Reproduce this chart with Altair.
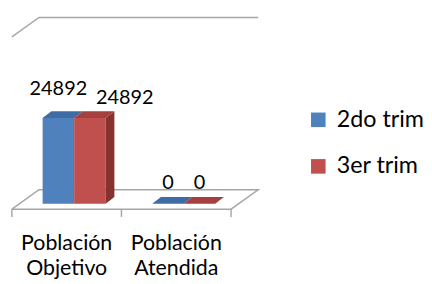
import altair as alt
import pandas as pd

# ---------------- data ----------------
categories = ["Población Objetivo", "Población Atendida"]
series_names = ["2do trim", "3er trim"]
values_2do = [24892, 0]
values_3er = [24892, 0]
gridline_value = 50000

# ---------------- style / layout ----------------
W, H = 416, 268
CENTER0_PX = 68.2
PX_PER_U = 113.0
Y_MIN, Y_MAX = -19800, 55600
VPP = (Y_MAX - Y_MIN) / H          # value units per pixel
X_DOMAIN = [-CENTER0_PX / PX_PER_U, (W - CENTER0_PX) / PX_PER_U]
BAR_W = 32.5 / PX_PER_U
BAR_DX, BAR_DY = 9.0, 7.0
FLOOR_FRONT, FLOOR_BACK = -7.7, 20.3
FLOOR_SLOPE = 20 / 28
TICK_LEN = 8
CAT_LABEL_GAP = 42
CAT_LINE_H = 26
VALUE_LABEL_SHIFT = [[(0, 24), (36, 14)], [(0, 15.5), (0, 15.5)]]
FRONT_COL = ["#4f81bd", "#c0504d"]
TOP_COL = ["#3f6ca5", "#a5403d"]
SIDE_COL = "#86322f"
LINE_COL = "#a6a6a6"
FONT = "Lato"


def proj(u, v, depth, slope):
    return u + depth / PX_PER_U, v + depth * slope * VPP


xs = alt.Scale(domain=X_DOMAIN, nice=False, zero=False)
ys = alt.Scale(domain=[Y_MIN, Y_MAX], nice=False, zero=False)


def X(f):
    return alt.X(f, type="quantitative", scale=xs, axis=None)


def Y(f):
    return alt.Y(f, type="quantitative", scale=ys, axis=None)


series_values = [values_2do, values_3er]
dxu = BAR_DX / PX_PER_U
dyv = BAR_DY * VPP
front_rows, top_rows, side_rows, lab_rows = [], [], [], []
for ci, cat in enumerate(categories):
    for si, s in enumerate(series_names):
        v = series_values[si][ci]
        u0 = ci - BAR_W + si * BAR_W
        u1 = u0 + BAR_W
        front_rows.append(dict(series=s, u0=u0, u1=u1, v=v, base=0))
        bid = f"{ci}-{si}"
        for (x, ya, yb) in [(u0, v, v), (u0 + dxu, v, v + dyv),
                            (u1, v, v + dyv), (u1 + dxu, v + dyv, v + dyv)]:
            top_rows.append(dict(bar=bid, fillc=TOP_COL[si], x=x, y=ya, y2=yb))
        if si == len(series_names) - 1 and v > 0:
            side_rows += [dict(bar=bid, x=u1, y=0, y2=v),
                          dict(bar=bid, x=u1 + dxu, y=dyv, y2=v + dyv)]
        sdx, sup = VALUE_LABEL_SHIFT[ci][si]
        lab_rows.append(dict(x=(u0 + u1) / 2 + sdx / PX_PER_U,
                             y=v + sup * VPP, text=f"{v}"))

u_lo, u_hi = -0.5, len(categories) - 0.5
floor_pts = [(u_lo, FLOOR_FRONT), (u_lo, FLOOR_BACK), (u_hi, FLOOR_BACK),
             (u_hi, FLOOR_FRONT), (u_lo, FLOOR_FRONT)]
floor_rows = []
for o, (u, d) in enumerate(floor_pts):
    x, y = proj(u, 0, d, FLOOR_SLOPE)
    floor_rows.append(dict(o=o, x=x, y=y))

wall_rows = []
for o, (u, d) in enumerate([(u_lo, FLOOR_FRONT), (u_lo, FLOOR_BACK), (u_hi, FLOOR_BACK)]):
    x, y = proj(u, gridline_value, d, FLOOR_SLOPE)
    wall_rows.append(dict(o=o, x=x, y=y))

tick_rows = []
for k in range(len(categories) + 1):
    x, y = proj(u_lo + k, 0, FLOOR_FRONT, FLOOR_SLOPE)
    tick_rows.append(dict(x=x, y=y, y2=y - TICK_LEN * VPP))

cat_rows = []
for ci, cat in enumerate(categories):
    x, y = proj(ci, 0, FLOOR_FRONT, FLOOR_SLOPE)
    cat_rows.append(dict(x=x, y=y - CAT_LABEL_GAP * VPP, text=cat))

floor = alt.Chart(pd.DataFrame(floor_rows)).mark_line(
    color=LINE_COL, strokeWidth=1.5).encode(x=X("x"), y=Y("y"), order="o:Q")
wall = alt.Chart(pd.DataFrame(wall_rows)).mark_line(
    color=LINE_COL, strokeWidth=1.5).encode(x=X("x"), y=Y("y"), order="o:Q")
ticks = alt.Chart(pd.DataFrame(tick_rows)).mark_rule(
    color=LINE_COL, strokeWidth=1.5).encode(x=X("x"), y=Y("y"), y2="y2")

fronts = alt.Chart(pd.DataFrame(front_rows)).mark_rect().encode(
    x=X("u0"), x2="u1", y=Y("v"), y2="base",
    color=alt.Color("series:N",
                    scale=alt.Scale(domain=series_names, range=FRONT_COL),
                    legend=alt.Legend(orient="none", legendX=308, legendY=99,
                                      title=None, symbolType="square",
                                      symbolSize=225, symbolStrokeWidth=0,
                                      labelFont=FONT, labelFontSize=24,
                                      labelOffset=7, rowPadding=24, padding=0,
                                      labelColor="black")))
tops = alt.Chart(pd.DataFrame(top_rows)).mark_area().encode(
    x=X("x"), y=Y("y"), y2="y2", detail="bar:N",
    fill=alt.Fill("fillc:N", scale=None))
sides = alt.Chart(pd.DataFrame(side_rows)).mark_area(color=SIDE_COL).encode(
    x=X("x"), y=Y("y"), y2="y2", detail="bar:N")
vlabels = alt.Chart(pd.DataFrame(lab_rows)).mark_text(
    font=FONT, fontSize=20.5, baseline="alphabetic", align="center",
    color="black").encode(x=X("x"), y=Y("y"), text="text:N")
clabels = alt.Chart(pd.DataFrame(cat_rows)).mark_text(
    font=FONT, fontSize=22, baseline="alphabetic", align="center",
    lineBreak=" ", lineHeight=CAT_LINE_H, color="black").encode(
    x=X("x"), y=Y("y"), text="text:N")

chart = alt.layer(floor, wall, ticks, fronts, tops, sides, vlabels, clabels).properties(
    width=W, height=H, padding=0, background="white"
).configure_view(stroke=None)

chart.save("out.html", embed_options={"renderer": "svg", "actions": False})
